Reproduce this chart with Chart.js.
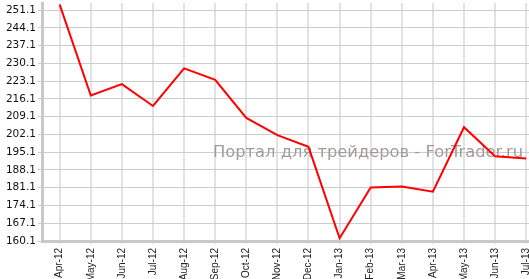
<!DOCTYPE html>
<html>
<head>
<meta charset="utf-8">
<script src="https://cdn.jsdelivr.net/npm/chart.js@4/dist/chart.umd.min.js"></script>
<style>
    body { margin: 0; background: #fff; }
    #wrap { width: 529px; height: 279px; position: relative; }
</style>
</head>
<body>
<div id="wrap"><canvas id="priceChart"></canvas></div>
<script>
// months on the x axis
var months = ['Apr-12', 'May-12', 'Jun-12', 'Jul-12', 'Aug-12', 'Sep-12', 'Oct-12', 'Nov-12',
              'Dec-12', 'Jan-13', 'Feb-13', 'Mar-13', 'Apr-13', 'May-13', 'Jun-13', 'Jul-13'];
// values
var prices = [253.2, 217.4, 221.9, 213.3, 228.1, 223.6, 208.6, 201.8,
              197.2, 161.2, 181.2, 181.6, 179.5, 204.9, 193.5, 192.6];
// y tick labels
var yTicks = [160.1, 167.1, 174.1, 181.1, 188.1, 195.1, 202.1,
              209.1, 216.1, 223.1, 230.1, 237.1, 244.1, 251.1];
var watermark = 'Портал для трейдеров - ForTrader.ru';

document.addEventListener('DOMContentLoaded', function() {
    var ctx = document.getElementById('priceChart').getContext('2d');

    // watermark text behind the line
    var watermarkPlugin = {
        id: 'watermark',
        beforeDatasetsDraw: function(chart) {
            var c = chart.ctx;
            c.save();
            c.font = '16px "DejaVu Sans"';
            c.fillStyle = '#a39a9a';
            c.textBaseline = 'alphabetic';
            c.textAlign = 'left';
            var w = c.measureText(watermark).width;
            c.translate(213, 157);
            c.scale(310 / w, 1);
            c.fillText(watermark, 0, 0);
            c.restore();
        }
    };

    new Chart(ctx, {
        type: 'line',
        data: {
            datasets: [{
                label: 'Price',
                data: prices.map(function(v, i) { return { x: i, y: v }; }),
                borderColor: '#ff0000',
                borderWidth: 2,
                pointRadius: 0,
                tension: 0,
                fill: false
            }]
        },
        options: {
            responsive: true,
            maintainAspectRatio: false,
            animation: false,
            layout: { padding: { top: 3, left: 0, right: 0, bottom: 0 }, autoPadding: false },
            plugins: {
                legend: { display: false },
                tooltip: { enabled: false }
            },
            scales: {
                x: {
                    type: 'linear',
                    min: -0.569,
                    max: 15.09,
                    afterBuildTicks: function(scale) {
                        scale.ticks = months.map(function(m, i) { return { value: i }; });
                    },
                    afterFit: function(scale) {
                        scale.height = 38;
                        scale.paddingLeft = 0;
                        scale.paddingRight = 0;
                    },
                    ticks: {
                        autoSkip: false,
                        minRotation: 90,
                        maxRotation: 90,
                        padding: 4,
                        color: '#222',
                        font: { family: '"Liberation Sans"', size: 10 },
                        callback: function(v) { return months[v]; }
                    },
                    grid: { color: '#e2e2e2', lineWidth: 2, tickLength: 3, tickColor: '#e2e2e2' },
                    border: { color: '#c8c8c8', width: 3 }
                },
                y: {
                    min: 160.1,
                    max: 253.86,
                    afterBuildTicks: function(scale) {
                        scale.ticks = yTicks.map(function(v) { return { value: v }; });
                    },
                    afterFit: function(scale) {
                        scale.width = 42;
                        scale.paddingTop = 0;
                        scale.paddingBottom = 0;
                    },
                    ticks: {
                        autoSkip: false,
                        padding: 2,
                        color: '#111',
                        font: { family: '"DejaVu Sans"', size: 10.5 },
                        callback: function(v) { return v.toFixed(1); }
                    },
                    grid: { color: '#cccccc', lineWidth: 1, tickLength: 4, tickColor: '#c8c8c8' },
                    border: { color: '#c8c8c8', width: 3 }
                }
            }
        },
        plugins: [watermarkPlugin]
    });
});
</script>
</body>
</html>
